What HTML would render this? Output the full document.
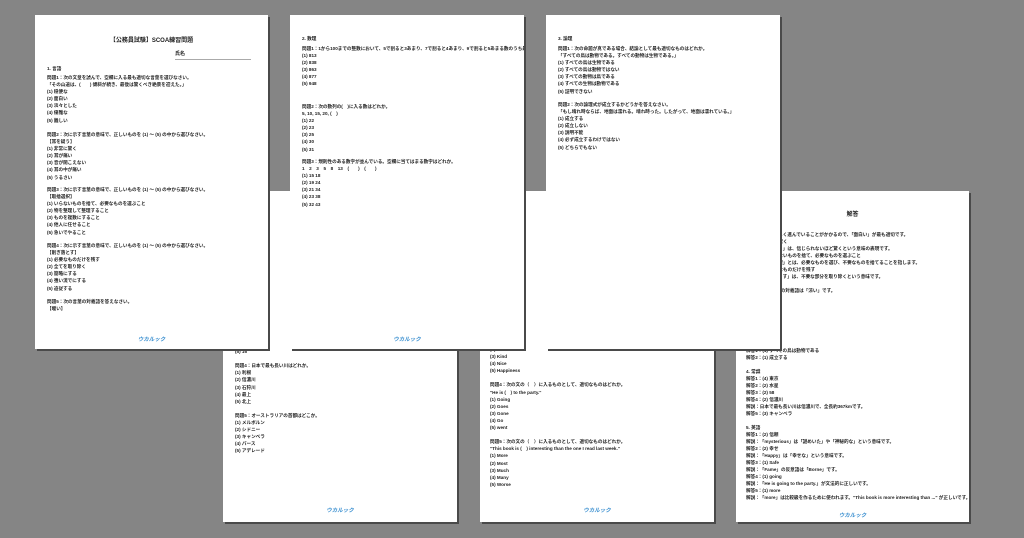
<!DOCTYPE html>
<html><head><meta charset="utf-8"><style>
body{margin:0;width:1024px;height:538px;background:#858585;position:relative;overflow:hidden;font-family:"Liberation Sans","Noto Sans CJK JP",sans-serif}
.p{position:absolute;background:#fff;box-shadow:2px 2px 0 #4a4a4a;overflow:hidden}
.b{position:absolute;font-size:4.6px;line-height:7.1px;color:#222;font-weight:bold;white-space:nowrap}
.t{position:absolute;font-size:6px;font-weight:bold;color:#222;width:100%;text-align:center}
.logo{position:absolute;font-size:5.5px;font-style:italic;font-weight:bold;color:#3a8fd0;width:100%;text-align:center}
</style></head><body>

<!-- bottom row -->
<div class="p" style="left:223px;top:191px;width:234px;height:331px">
<div class="b" style="left:12px;top:150px">(4) 以<br>(5) 16<br><br>問題4：日本で最も長い川はどれか。<br>(1) 利根<br>(2) 信濃川<br>(3) 石狩川<br>(4) 最上<br>(5) 北上<br><br>問題5：オーストラリアの首都はどこか。<br>(1) メルボルン<br>(2) シドニー<br>(3) キャンベラ<br>(4) パース<br>(5) アデレード</div>
<div class="logo" style="top:315px">ウカルック</div>
</div>

<div class="p" style="left:480px;top:191px;width:234px;height:331px">
<div class="b" style="left:10px;top:155px">(2) Friend<br>(3) Kind<br>(4) Nice<br>(5) Happiness<br><br>問題4：次の文の（　）に入るものとして、適切なものはどれか。<br>"He is (　) to the party."<br>(1) Going<br>(2) Goes<br>(3) Gone<br>(4) Go<br>(5) went<br><br>問題5：次の文の（　）に入るものとして、適切なものはどれか。<br>"This book is (　) interesting than the one I read last week."<br>(1) More<br>(2) Most<br>(3) Much<br>(4) Many<br>(5) Worse</div>
<div class="logo" style="top:315px">ウカルック</div>
</div>

<div class="p" style="left:736px;top:191px;width:233px;height:331px">
<div class="t" style="top:18px">解答</div>
<div class="b" style="left:10px;top:33px;line-height:7px">問題1：い<br>解説：登山を楽しく進んでいることがかかるので、「面白い」が最も適切です。<br>問題2：(1) 耳に驚く<br>解説：「耳を疑う」は、信じられないほど驚くという意味の表現です。<br>問題3：(1) いらないものを捨て、必要なものを選ぶこと<br>解説：「取捨選択」とは、必要なものを選び、不要なものを捨てることを指します。<br>問題4：(1) 必要なものだけを残す<br>解説：「削ぎ落とす」は、不要な部分を取り除くという意味です。<br><br>問題5：「暖い」の対義語は「涼い」です。</div>
<div class="b" style="left:10px;top:156px;line-height:7px">解答1：(1) すべての鳥は動物である<br>解答2：(1) 成立する<br><br>4. 常識<br>解答1：(4) 東京<br>解答2：(2) 水星<br>解答3：(2) 58<br>解答4：(2) 信濃川<br>解説：日本で最も長い川は信濃川で、全長約367kmです。<br>解答5：(3) キャンベラ<br><br>5. 英語<br>解答1：(2) 信頼<br>解説：「mysterious」は「謎めいた」や「神秘的な」という意味です。<br>解答2：(2) 幸せ<br>解説：「Happy」は「幸せな」という意味です。<br>解答3：(1) Safe<br>解説：「Fame」の反意語は「Borne」です。<br>解答4：(1) going<br>解説：「He is going to the party.」が文法的に正しいです。<br>解答5：(1) more<br>解説：「more」は比較級を作るために使われます。"This book is more interesting than ..." が正しいです。</div>
<div class="logo" style="top:320px">ウカルック</div>
</div>

<!-- top row -->
<div class="p" style="left:35px;top:15px;width:233px;height:334px">
<div class="t" style="top:20px">【公務員試験】SCOA練習問題</div>
<div class="b" style="left:140px;top:36px;font-size:5px">氏名</div>
<div style="position:absolute;left:140px;top:44px;width:76px;border-top:1px solid #aaa"></div>
<div class="b" style="left:12px;top:50px">1. 言語</div>
<div class="b" style="left:12px;top:59px">問題1：次の文章を読んで、空欄に入る最も適切な言葉を選びなさい。<br>「その山道は、(　　) 傾斜が続き、最後は驚くべき絶景を迎えた。」<br>(1) 穏便な<br>(2) 面白い<br>(3) 淡々とした<br>(4) 優雅な<br>(5) 難しい</div>
<div class="b" style="left:12px;top:116px">問題2：次に示す言葉の意味で、正しいものを (1) ～ (5) の中から選びなさい。<br>【耳を疑う】<br>(1) 非常に驚く<br>(2) 耳が痛い<br>(3) 音が聞こえない<br>(4) 耳の中が痛い<br>(5) うるさい</div>
<div class="b" style="left:12px;top:171px">問題3：次に示す言葉の意味で、正しいものを (1) ～ (5) の中から選びなさい。<br>【取捨選択】<br>(1) いらないものを捨て、必要なものを選ぶこと<br>(2) 物を整理して整理すること<br>(3) ものを複数にすること<br>(4) 他人に任せること<br>(5) 急いでやること</div>
<div class="b" style="left:12px;top:227px">問題4：次に示す言葉の意味で、正しいものを (1) ～ (5) の中から選びなさい。<br>【削ぎ落とす】<br>(1) 必要なものだけを残す<br>(2) 全てを取り除く<br>(3) 簡略にする<br>(4) 強い流でにする<br>(5) 追従する</div>
<div class="b" style="left:12px;top:283px">問題5：次の言葉の対義語を答えなさい。<br>【暖い】</div>
<div class="logo" style="top:320px">ウカルック</div>
</div>

<div class="p" style="left:290px;top:15px;width:234px;height:334px">
<div class="b" style="left:12px;top:20px">2. 数理</div>
<div class="b" style="left:12px;top:30px">問題1：1から100までの整数において、5で割ると3あまり、7で割ると4あまり、9で割ると5あまる数のうち最も大きな整数はどれか。<br>(1) 813<br>(2) 838<br>(3) 863<br>(4) 877<br>(5) 948</div>
<div class="b" style="left:12px;top:88px">問題2：次の数列の(　)に入る数はどれか。<br>5, 10, 15, 20, (　)<br>(1) 22<br>(2) 23<br>(3) 25<br>(4) 30<br>(5) 31</div>
<div class="b" style="left:12px;top:143px">問題3：規則性のある数字が並んでいる。空欄に当てはまる数字はどれか。<br>1　2　3　5　8　13　(　　)　(　　)<br>(1) 15 18<br>(2) 19 24<br>(3) 21 34<br>(4) 23 38<br>(5) 32 43</div>
<div class="logo" style="top:320px">ウカルック</div>
</div>

<div class="p" style="left:546px;top:15px;width:234px;height:334px">
<div class="b" style="left:12px;top:20px">3. 論理</div>
<div class="b" style="left:12px;top:30px">問題1：次の命題が真である場合、結論として最も適切なものはどれか。<br>「すべての鳥は動物である。すべての動物は生物である。」<br>(1) すべての鳥は生物である<br>(2) すべての鳥は動物ではない<br>(3) すべての動物は鳥である<br>(4) すべての生物は動物である<br>(5) 証明できない</div>
<div class="b" style="left:12px;top:86px">問題2：次の論理式が成立するかどうかを答えなさい。<br>「もし晴れ時ならば、地面は濡れる。晴れ時った。したがって、地面は濡れている。」<br>(1) 成立する<br>(2) 成立しない<br>(3) 説明不能<br>(4) 必ず成立するわけではない<br>(5) どちらでもない</div>
</div>
</body></html>
